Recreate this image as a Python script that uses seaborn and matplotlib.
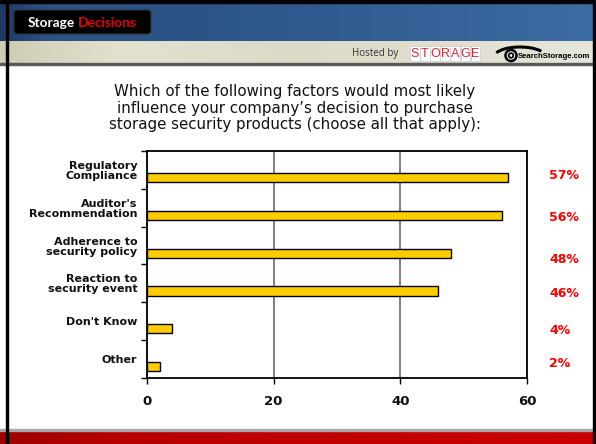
import numpy as np
import pandas as pd
import matplotlib
matplotlib.use("Agg")
import matplotlib.pyplot as plt
import matplotlib.transforms as mtransforms
from matplotlib.colors import LinearSegmentedColormap
from matplotlib.patches import FancyBboxPatch, Rectangle, Circle, Arc
import seaborn as sns

# ---------------- data ----------------
categories = ["Regulatory\nCompliance", "Auditor's\nRecommendation",
              "Adherence to\nsecurity policy", "Reaction to\nsecurity event",
              "Don't Know", "Other"]
values = [57, 56, 48, 46, 4, 2]
value_labels = ["57%", "56%", "48%", "46%", "4%", "2%"]
x_ticks = [0, 20, 40, 60]
title_text = ("Which of the following factors would most likely\n"
              "influence your company\u2019s decision to purchase\n"
              "storage security products (choose all that apply):")
# small vertical nudges of the percent labels (layout only)
label_nudge = [-0.05, 0.05, 0.18, 0.06, 0.04, -0.08]

# ---------------- figure ----------------
sns.set_theme(style="white")
plt.rcParams["font.family"] = ["DejaVu Sans"]

W, H = 596, 444
fig = plt.figure(figsize=(W / 100, H / 100), dpi=100)
fig.patch.set_facecolor("white")

bg = fig.add_axes([0, 0, 1, 1], zorder=0)
bg.axis("off")


def hgrad(x0, x1, y0, y1, stops):
    cmap = LinearSegmentedColormap.from_list("g", stops)
    grad = np.linspace(0, 1, 256).reshape(1, -1)
    bg.imshow(grad, cmap=cmap, extent=[x0, x1, y1, y0], aspect="auto",
              interpolation="bilinear", zorder=1)


# header (blue)
hgrad(0, W, 0, 41, [(0.0, "#1f3963"), (0.08, "#2d5286"), (0.35, "#2c5488"),
                    (1.0, "#3b6ca3")])
# beige band
hgrad(0, W, 41, 63, [(0.0, "#cfccb4"), (0.2, "#e3e1cf"), (0.5, "#dcdac7"),
                     (1.0, "#e6e5da")])
bg.add_patch(Rectangle((0, 63), W, 2.2, color="#5a5a5a", zorder=2))
# footer
bg.add_patch(Rectangle((0, 428.5), W, 2.5, color="#a8a8a8", zorder=2))
hgrad(0, W, 431, H, [(0.0, "#9e0000"), (0.2, "#b80000"), (1.0, "#cc0000")])
# frame lines
bg.add_patch(Rectangle((0, 0), W, 3, color="black", zorder=3))
bg.add_patch(Rectangle((5.5, 0), 2.2, H, color="black", zorder=3))
bg.add_patch(Rectangle((593, 0), 2, H, color="black", zorder=3))

# Storage Decisions badge
bg.add_patch(FancyBboxPatch((14, 10), 137, 24, boxstyle="round,pad=0,rounding_size=3",
                            fc="black", ec="#333333", lw=0.8, zorder=4))
bg.text(74.5, 23, "Storage", color="white", fontsize=9.8, fontweight="bold",
        family=["Lato", "DejaVu Sans"], ha="right", va="center", zorder=5)
bg.text(78, 23, "Decisions", color="#e60000", fontsize=9.8, fontweight="bold",
        family=["Lato", "DejaVu Sans"], ha="left", va="center", zorder=5)

# Hosted by
bg.text(352, 53.5, "Hosted by", color="#333333", fontsize=7,
        family=["Open Sans", "DejaVu Sans"], ha="left", va="center", zorder=5)
for k, ch in enumerate("STORAGE"):
    x0 = 410 + k * 10.1
    bg.add_patch(Rectangle((x0, 46), 9.6, 15, fc="white", ec="#d0d0d0", lw=0.6, zorder=4))
    bg.text(x0 + 4.8, 53.8, ch, color="#d42a3a", fontsize=9,
            family=["Liberation Sans", "DejaVu Sans"], ha="center", va="center", zorder=5)

# SearchStorage.com logo
bg.add_patch(Arc((520, 57), 52, 20, theta1=190, theta2=345, lw=2.2, color="black", zorder=5))
bg.add_patch(Circle((511, 55.5), 5.5, fc="white", ec="black", lw=1.8, zorder=6))
bg.add_patch(Circle((511, 55.5), 2.3, fc="none", ec="black", lw=1.3, zorder=6))
bg.text(518, 57, "SearchStorage.com", color="black", fontsize=5.6, fontweight="bold",
        family=["Liberation Sans", "DejaVu Sans"], ha="left", va="center", zorder=6)

# title
bg.text(295, 108, title_text, color="#111111", fontsize=10.8, ha="center",
        va="center", multialignment="center", linespacing=1.12, zorder=5)

bg.set_xlim(0, W)
bg.set_ylim(H, 0)

# ---------------- chart ----------------
ax = fig.add_axes([147 / W, 1 - 378 / H, (527 - 147) / W, (378 - 151) / H], zorder=2)
ax.set_facecolor("white")

df = pd.DataFrame({"category": categories, "value": values})
sns.barplot(data=df, x="value", y="category", order=categories, orient="h",
            width=0.24, color="#ffcc00", saturation=1, edgecolor="black",
            linewidth=1.0, ax=ax, zorder=3)

ax.set_xlim(0, 60)
ax.set_ylim(5.3, -0.7)
ax.set_xticks(x_ticks)
ax.set_xticklabels([str(t) for t in x_ticks])
ax.set_yticks(np.arange(len(categories)) - 0.2)
ax.set_yticklabels(categories, fontsize=8, fontweight="bold", linespacing=1.0,
                   color="#111111")
ax.set_yticks(np.arange(-0.7, len(categories), 1.0), minor=True)
ax.tick_params(axis="y", which="major", length=0, pad=7)
ax.tick_params(axis="y", which="minor", length=4, width=1, color="black",
               direction="out", left=True)
ax.tick_params(axis="x", which="major", length=4, width=1, color="black",
               direction="out", bottom=True, pad=8.5, labelsize=9.5)
for lab in ax.get_xticklabels():
    lab.set_fontweight("bold")
    lab.set_color("#111111")

ax.set_xlabel("")
ax.set_ylabel("")
ax.xaxis.grid(True, color="#808080", lw=1.4, zorder=0)
ax.yaxis.grid(False)
ax.set_axisbelow(True)
for s in ax.spines.values():
    s.set_visible(True)
    s.set_color("black")
    s.set_linewidth(1.3)

trans = mtransforms.blended_transform_factory(ax.transAxes, ax.transData)
for i, (lab, nud) in enumerate(zip(value_labels, label_nudge)):
    ax.text(1.058, i + nud, lab, transform=trans, color="#ff0000", fontsize=9,
            fontweight="bold", ha="left", va="center", clip_on=False)

fig.savefig("out.png", dpi=100, facecolor="white")
